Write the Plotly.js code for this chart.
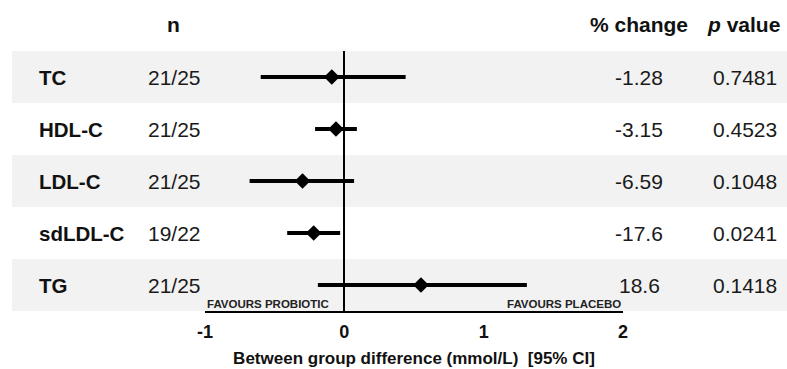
<!DOCTYPE html>
<html>
<head>
<meta charset="utf-8">
<script src="https://cdn.plot.ly/plotly-3.0.1.min.js"></script>
<style>html,body{margin:0;padding:0;background:#fff;}#chart{width:787px;height:369px;}</style>
</head>
<body>
<div id="chart"></div>
<script>
// Data
var labels = ['TC', 'HDL-C', 'LDL-C', 'sdLDL-C', 'TG'];
var nValues = ['21/25', '21/25', '21/25', '19/22', '21/25'];
var estimate = [-0.09, -0.06, -0.30, -0.22, 0.55];
var ciLower = [-0.60, -0.21, -0.68, -0.41, -0.19];
var ciUpper = [0.44, 0.09, 0.07, -0.03, 1.31];
var pctChange = ['-1.28', '-3.15', '-6.59', '-17.6', '18.6'];
var pValues = ['0.7481', '0.4523', '0.1048', '0.0241', '0.1418'];
var xTickVals = [-1, 0, 1, 2];
var xTickText = ['-1', '0', '1', '2'];

var FONT = 'Liberation Sans, Arial, sans-serif';
var rows = labels.map(function (_, i) { return i; });

var trace = {
  type: 'scatter',
  mode: 'markers',
  x: estimate,
  y: rows,
  marker: { symbol: 'diamond', size: 12, color: '#000' },
  error_x: {
    type: 'data',
    symmetric: false,
    array: estimate.map(function (e, i) { return ciUpper[i] - e; }),
    arrayminus: estimate.map(function (e, i) { return e - ciLower[i]; }),
    color: '#000',
    thickness: 4,
    width: 0
  },
  hoverinfo: 'skip',
  showlegend: false
};

// Paper coordinate helpers (plot area spans 205..623 px horizontally)
var L = 205, W = 418;
function px(p) { return (p - L) / W; }

var shapes = [];
rows.forEach(function (i) {
  if (i % 2 === 0) {
    shapes.push({
      type: 'rect', layer: 'below',
      xref: 'paper', yref: 'y',
      x0: px(12), x1: px(787),
      y0: i - 0.5, y1: i + 0.5,
      fillcolor: '#f2f2f2', line: { width: 0 }
    });
  }
});

var annotations = [];
function ann(o) {
  annotations.push(Object.assign({
    showarrow: false, xref: 'paper', yref: 'y', yanchor: 'middle',
    font: { family: FONT, size: 21, color: '#1a1a1a' }
  }, o));
}
rows.forEach(function (i) {
  ann({ x: px(37), y: i, xanchor: 'left', text: '<b>' + labels[i] + '</b>', font: { family: FONT, size: 20.5, color: '#111' } });
  ann({ x: px(146), y: i, xanchor: 'left', text: nValues[i] });
  ann({ x: px(639), y: i, xanchor: 'center', text: pctChange[i] });
  ann({ x: px(745), y: i, xanchor: 'center', text: pValues[i] });
});
// headers
var hy = 1 + (51 - 25) / 260;
var hfont = { family: FONT, size: 21, color: '#111' };
ann({ x: px(173), y: hy, yref: 'paper', xanchor: 'center', text: '<b>n</b>', font: hfont });
ann({ x: px(639), y: hy, yref: 'paper', xanchor: 'center', text: '<b>% change</b>', font: hfont });
ann({ x: px(743), y: hy, yref: 'paper', xanchor: 'center', text: '<b><i>p</i> value</b>', font: hfont });
// favours
ann({ x: 0, y: 0, yref: 'paper', xanchor: 'left', yanchor: 'bottom', yshift: -1, text: '<b>FAVOURS PROBIOTIC</b>', font: { family: FONT, size: 11.5, color: '#222' } });
ann({ x: 1, y: 0, yref: 'paper', xanchor: 'right', yanchor: 'bottom', yshift: -1, text: '<b>FAVOURS PLACEBO</b>', font: { family: FONT, size: 11.5, color: '#222' } });

var layout = {
  width: 787, height: 369,
  margin: { l: 205, r: 164, t: 51, b: 58 },
  paper_bgcolor: '#fff', plot_bgcolor: 'rgba(0,0,0,0)',
  font: { family: FONT, color: '#111' },
  xaxis: {
    range: [-1, 2],
    tickvals: xTickVals, ticktext: xTickText.map(function (t) { return '<b>' + t + '</b>'; }),
    tickfont: { family: FONT, size: 18, color: '#111' },
    ticks: '', ticklabelstandoff: 3, showgrid: false,
    showline: true, linecolor: '#000', linewidth: 2,
    zeroline: true, zerolinecolor: '#000', zerolinewidth: 2,
    fixedrange: true,
    title: { text: '<b>Between group difference (mmol/L)  [95% CI]</b>', font: { family: FONT, size: 17, color: '#111' }, standoff: 12 }
  },
  yaxis: {
    range: [4.5, -0.5],
    showticklabels: false, showgrid: false, zeroline: false, showline: false, ticks: '',
    fixedrange: true
  },
  shapes: shapes,
  annotations: annotations
};

Plotly.newPlot('chart', [trace], layout, { displayModeBar: false, staticPlot: true });
</script>
</body>
</html>
